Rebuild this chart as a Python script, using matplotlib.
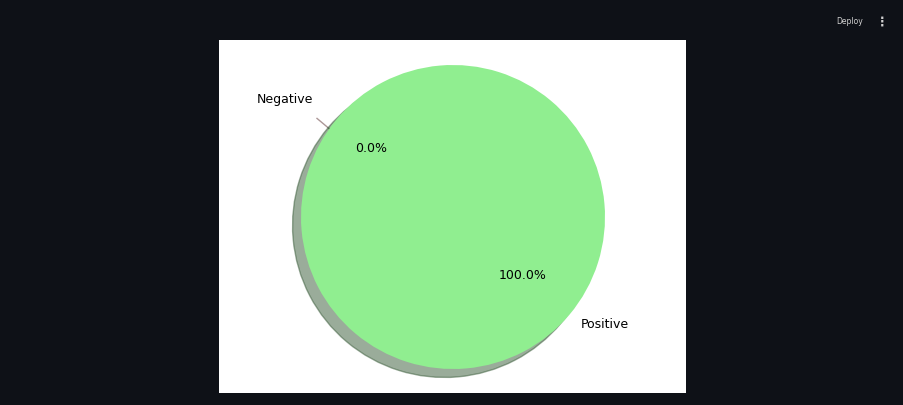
import matplotlib
matplotlib.use("Agg")
import matplotlib.pyplot as plt

# Data
labels = ["Negative", "Positive"]
sizes = [0, 100]
colors = ["lightcoral", "lightgreen"]
explode = (0.1, 0)

W, H = 904, 405
fig = plt.figure(figsize=(W / 100, H / 100), dpi=100)
fig.patch.set_facecolor("#0e1117")

# white image area (embedded matplotlib figure)
bg = fig.add_axes([219 / W, (H - 393) / H, 467 / W, 353 / H])
bg.set_facecolor("white")
bg.set_xticks([]); bg.set_yticks([])
for s in bg.spines.values():
    s.set_visible(False)

# pie axes
R = 152.0
L = 1.1
S = 2 * L * R
cx, cy = 453.0, H - 217.0
ax = fig.add_axes([(cx - S / 2) / W, (cy - S / 2) / H, S / W, S / H])
ax.pie(sizes, explode=explode, labels=labels, colors=colors,
       autopct="%1.1f%%", shadow={"ox": -0.04, "oy": -0.04, "shade": 0.62},
       startangle=140, textprops={"fontsize": 9})
ax.set_xlim(-L, L)
ax.set_ylim(-L, L)
ax.set_aspect("equal")
ax.axis("off")

# Streamlit top bar
fig.text(850 / W, 1 - 22 / H, "Deploy", color="#d0d0d0", fontsize=5.5,
         ha="center", va="center")
fig.text(882 / W, 1 - 22 / H, "\u22ee", color="#d0d0d0", fontsize=9,
         ha="center", va="center", fontweight="bold")

fig.savefig("out.png", dpi=100, facecolor=fig.get_facecolor())
